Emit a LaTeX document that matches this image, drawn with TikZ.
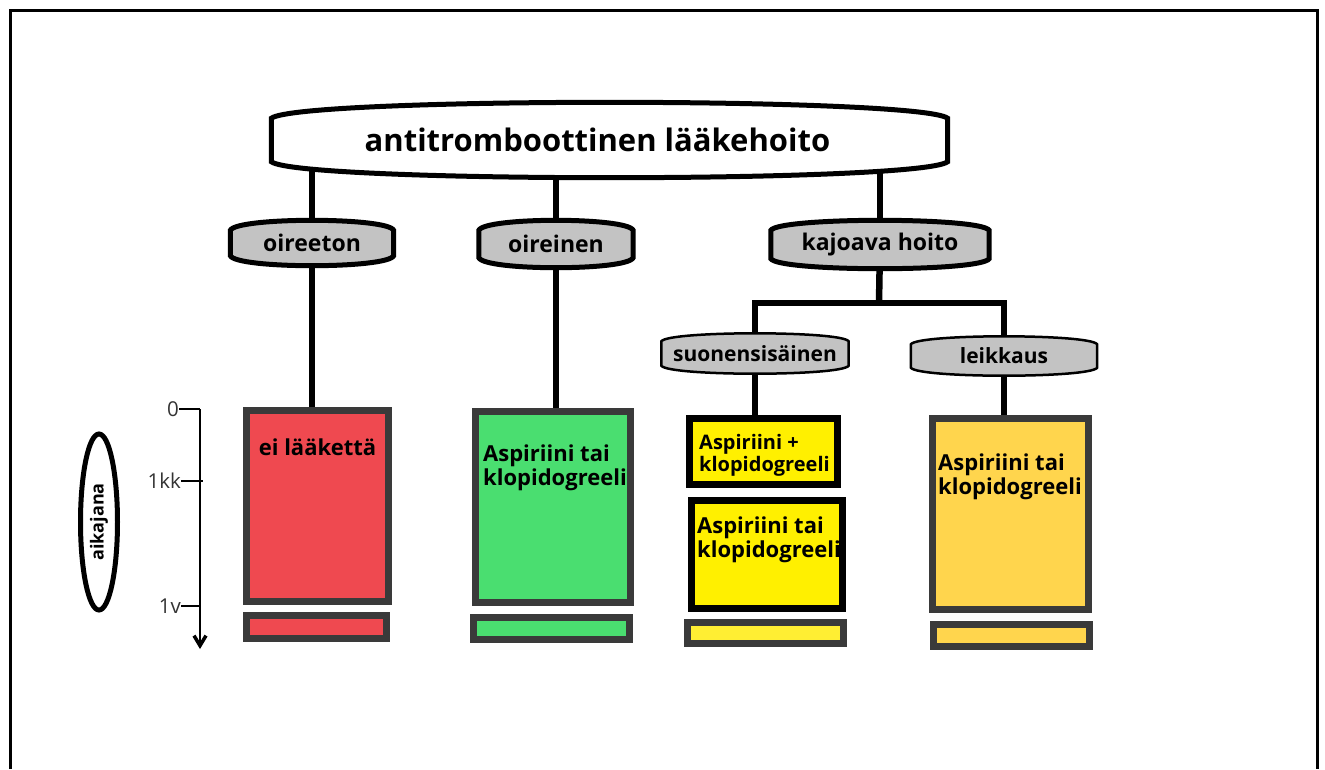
\documentclass[tikz,border=0pt]{standalone}
\usepackage{fontspec}
\setmainfont{Open Sans}
\usetikzlibrary{calc,arrows.meta,shapes.geometric}
\definecolor{cRed}{HTML}{EF4950}
\definecolor{cGreen}{HTML}{4ADE70}
\definecolor{cYellow}{HTML}{FFF000}
\definecolor{cYellowL}{HTML}{FFEE33}
\definecolor{cOrange}{HTML}{FFD54D}
\definecolor{cGray}{HTML}{C3C3C3}
\definecolor{cBorder}{HTML}{3A3A3A}
\definecolor{cTick}{HTML}{333333}
\pgfdeclarelayer{back}
\pgfdeclarelayer{mid}
\pgfsetlayers{back,mid,main}
% barrel outline around a named node: #1 node, #2 bulge, #3 options
\newcommand\barrelpath[3]{%
  \draw[#3] let \p1=(#1.north west), \p2=(#1.south east) in
    (\x1,\y1-#2) -- (\x1,\y2+#2)
    .. controls (\x1+0.04*\x2-0.04*\x1,\y2-#2/3) and (\x2-0.04*\x2+0.04*\x1,\y2-#2/3) .. (\x2,\y2+#2)
    -- (\x2,\y1-#2)
    .. controls (\x2-0.04*\x2+0.04*\x1,\y1+#2/3) and (\x1+0.04*\x2-0.04*\x1,\y1+#2/3) .. cycle;}
\begin{document}
\begin{tikzpicture}[x=1pt,y=-1pt,
  conn/.style={line width=6.5pt},
  bnode/.style={inner sep=0pt, font=\bfseries\fontsize{23}{26}\selectfont},
  snode/.style={inner sep=0pt, font=\bfseries\fontsize{21}{24}\selectfont},
  box/.style={draw=cBorder, line width=7pt, inner sep=0pt},
  kbox/.style={draw=black, line width=7pt, inner sep=0pt},
  lbl/.style={inner sep=0pt, align=left, anchor=base west, font=\bfseries\fontsize{22}{23.5}\selectfont},
  tl/.style={inner sep=0pt, anchor=east, text=cTick, font=\fontsize{20.5}{22}\selectfont},
  tick/.style={line width=2.5pt}
]
\useasboundingbox (0,0) rectangle (1325,769);
\draw[line width=3pt] (10,769) -- (10,10.5) -- (1317,10.5) -- (1317,769);

% tree nodes
\node[bnode, minimum width=676pt, minimum height=75pt, font=\bfseries\fontsize{31}{34}\selectfont] (top) at (609.5,140) {antitromboottinen lääkehoito\kern24pt};
\node[bnode, minimum width=163pt, minimum height=45pt] (oireeton) at (312,243) {oireeton};
\node[bnode, minimum width=154pt, minimum height=47pt] (oireinen) at (556,244) {oireinen};
\node[bnode, minimum width=218pt, minimum height=48pt] (kajoava) at (880,244.5) {kajoava hoito};
\node[snode, minimum width=187pt, minimum height=40pt] (suonen) at (755,353.5) {suonensisäinen};
\node[snode, minimum width=186pt, minimum height=39pt] (leik) at (1004,356) {leikkaus};

% boxes
\node[box, fill=cRed, minimum width=142pt, minimum height=191pt] (red) at (317.5,506) {};
\node[box, fill=cRed, minimum width=140pt, minimum height=23pt] (redS) at (316.5,627) {};
\node[box, fill=cGreen, minimum width=155pt, minimum height=191pt] (green) at (553,507) {};
\node[box, fill=cGreen, minimum width=156pt, minimum height=22pt] (greenS) at (551.5,628.5) {};
\node[kbox, fill=cYellow, minimum width=148pt, minimum height=66pt] (ylw1) at (763.5,451.5) {};
\node[kbox, fill=cYellow, minimum width=151pt, minimum height=108pt] (ylw2) at (767,554.5) {};
\node[box, fill=cYellowL, minimum width=156pt, minimum height=21pt] (ylwS) at (765.5,633) {};
\node[box, fill=cOrange, minimum width=156pt, minimum height=191pt] (orng) at (1010.5,514) {};
\node[box, fill=cOrange, minimum width=156pt, minimum height=22pt] (orngS) at (1011.5,635.5) {};

% box texts (anchor = baseline of last line)
\node[inner sep=0pt, anchor=base, font=\bfseries\fontsize{22}{23.5}\selectfont] (redT) at (317.5,455) {ei lääkettä};
\node[lbl] (greenT) at (483,485) {Aspiriini tai\\klopidogreeli};
\node[lbl, font=\bfseries\fontsize{20}{21.5}\selectfont] (ylw1T) at (699,471) {Aspiriini +\\klopidogreeli};
\node[lbl] (ylw2T) at (697,557) {Aspiriini tai\\klopidogreeli};
\node[lbl] (orngT) at (938,494) {Aspiriini tai\\klopidogreeli};

% barrel outlines
\begin{pgfonlayer}{mid}
\barrelpath{top}{16pt}{draw=black, fill=white, line width=5pt}
\barrelpath{oireeton}{10pt}{draw=black, fill=cGray, line width=5pt}
\barrelpath{oireinen}{10pt}{draw=black, fill=cGray, line width=5pt}
\barrelpath{kajoava}{10pt}{draw=black, fill=cGray, line width=5pt}
\barrelpath{suonen}{8pt}{draw=black, fill=cGray, line width=2.5pt}
\barrelpath{leik}{8pt}{draw=black, fill=cGray, line width=2.5pt}
\end{pgfonlayer}

% connectors
\begin{pgfonlayer}{back}
\draw[conn] (oireeton.center |- top.center) -- (oireeton.center);
\draw[conn] (oireinen.center |- top.center) -- (oireinen.center);
\draw[conn] (kajoava.center |- top.center) -- (kajoava.center);
\draw[conn] (oireeton.center) -- (oireeton.center |- red.north);
\draw[conn] (oireinen.center) -- (oireinen.center |- green.north);
\coordinate (fork) at (879,303);
\draw[conn] (kajoava.center) -- (fork);
\draw[conn] (suonen.center) |- (fork) -| (leik.center);
\draw[conn] (suonen.center) -- (suonen.center |- ylw1.north);
\draw[conn] (leik.center) -- (leik.center |- orng.north);
\end{pgfonlayer}

% timeline
\coordinate (t0) at (200,409);
\coordinate (t1) at (200,481);
\coordinate (t2) at (200,606);
\coordinate (tend) at (200,649);
\draw[line width=2.5pt, -{Straight Barb[length=10pt,width=12pt,line width=3.5pt]}] (t0) -- (tend);
\node[tl] (l0) at (179,409) {0};
\node[tl] (l1) at (181,481) {1kk};
\node[tl] (l2) at (181,606) {1v};
\draw[tick] (l0.east) -- (t0);
\draw[tick] (l1.east) -- (203,481);
\draw[tick] (l2.east) -- (t2);
\node[ellipse, draw=black, fill=white, line width=5pt, rotate=90, minimum width=176pt, minimum height=37pt, inner sep=0pt, font=\bfseries\fontsize{18}{20}\selectfont] (aika) at (99,522) {aikajana};
\end{tikzpicture}
\end{document}
